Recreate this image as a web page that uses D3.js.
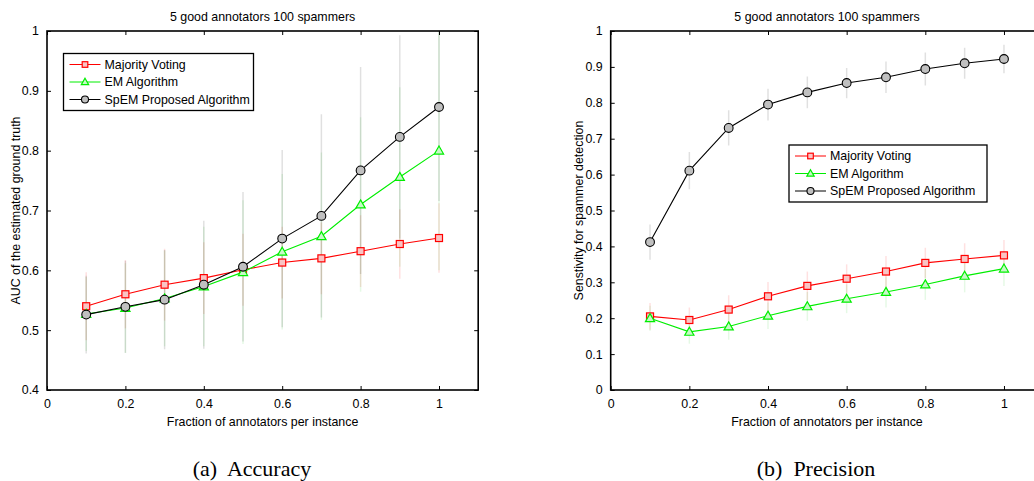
<!DOCTYPE html>
<html>
<head>
<meta charset="utf-8">
<script src="https://cdn.jsdelivr.net/npm/d3@7"></script>
<style>
  html, body { margin: 0; padding: 0; background: #fff; }
  svg { display: block; }
  text { font-family: Arial, "Liberation Sans", sans-serif; fill: #000; }
  .caption { font-family: "Times New Roman", "Liberation Serif", serif; white-space: pre; }
</style>
</head>
<body>
<svg id="fig" width="1034" height="481"></svg>
<script>
// Fraction of annotators per instance
const fractions = [0.1, 0.2, 0.3, 0.4, 0.5, 0.6, 0.7, 0.8, 0.9, 1.0];
const seriesNames = ["Majority Voting", "EM Algorithm", "SpEM Proposed Algorithm"];
const chartTitle = "5 good annotators 100 spammers";
const xLabel = "Fraction of annotators per instance";
const xTicks = [0, 0.2, 0.4, 0.6, 0.8, 1];

// (a) Accuracy: AUC of the estimated ground truth
const accMV   = [0.540, 0.560, 0.576, 0.587, 0.601, 0.613, 0.620, 0.632, 0.644, 0.654];
const accEM   = [0.527, 0.537, 0.553, 0.573, 0.597, 0.631, 0.657, 0.710, 0.756, 0.800];
const accSpEM = [0.526, 0.539, 0.551, 0.576, 0.606, 0.653, 0.691, 0.767, 0.823, 0.873];
const accMVErr   = [0.057, 0.057, 0.060, 0.060, 0.060, 0.060, 0.060, 0.060, 0.058, 0.058];
const accEMErr   = [0.062, 0.075, 0.080, 0.100, 0.120, 0.130, 0.140, 0.146, 0.150, 0.200];
const accSpEMErr = [0.065, 0.077, 0.083, 0.107, 0.125, 0.148, 0.170, 0.173, 0.170, 0.157];
const accYTicks = [0.4, 0.5, 0.6, 0.7, 0.8, 0.9, 1];

// (b) Precision: sensitivity for spammer detection
const senMV   = [0.205, 0.195, 0.224, 0.261, 0.290, 0.310, 0.330, 0.354, 0.365, 0.375];
const senEM   = [0.200, 0.162, 0.177, 0.207, 0.233, 0.254, 0.273, 0.294, 0.318, 0.338];
const senSpEM = [0.412, 0.611, 0.730, 0.795, 0.829, 0.855, 0.871, 0.894, 0.910, 0.922];
const senMVErr   = [0.037, 0.035, 0.040, 0.040, 0.040, 0.040, 0.043, 0.042, 0.044, 0.043];
const senEMErr   = [0.035, 0.033, 0.037, 0.037, 0.040, 0.040, 0.043, 0.043, 0.046, 0.048];
const senSpEMErr = [0.049, 0.052, 0.049, 0.044, 0.044, 0.042, 0.044, 0.046, 0.043, 0.040];
const senYTicks = [0, 0.1, 0.2, 0.3, 0.4, 0.5, 0.6, 0.7, 0.8, 0.9, 1];

const styles = [
  { color: "#ff0000", fill: "#f9c4c4", err: "rgba(255,0,0,0.12)", marker: "square" },
  { color: "#00ee00", fill: "#c8f8c8", err: "rgba(0,200,0,0.10)", marker: "triangle" },
  { color: "#000000", fill: "#c0c0c0", err: "rgba(0,0,0,0.12)", marker: "circle" }
];

const FS = 12.4;
const svg = d3.select("#fig");

function drawMarker(g, type, st, s = 1) {
  if (type === "square") {
    g.append("rect").attr("x", -3.5 * s).attr("y", -3.5 * s).attr("width", 7 * s).attr("height", 7 * s)
      .attr("fill", st.fill).attr("stroke", st.color).attr("stroke-width", 1.2);
  } else if (type === "triangle") {
    g.append("path").attr("d", `M0,${-4.6 * s}L${4.6 * s},${3.4 * s}L${-4.6 * s},${3.4 * s}Z`)
      .attr("fill", st.fill).attr("stroke", st.color).attr("stroke-width", 1.2);
  } else {
    g.append("circle").attr("r", 4.4 * s)
      .attr("fill", st.fill).attr("stroke", st.color).attr("stroke-width", 1.1);
  }
}

function panel(opts) {
  const { left, top, width, height, yDomain, yTicks, values, errors, yLabel, legendPos, caption, captionX } = opts;
  const x = d3.scaleLinear().domain([0, 1.1]).range([left, left + width]);
  const y = d3.scaleLinear().domain(yDomain).range([top + height, top]);
  const g = svg.append("g");

  const clipId = "clip" + Math.round(left);
  g.append("clipPath").attr("id", clipId)
    .append("rect").attr("x", left).attr("y", top).attr("width", width).attr("height", height);

  const plot = g.append("g").attr("clip-path", `url(#${clipId})`);

  // error bars (no caps), drawn beneath the lines
  values.forEach((vals, si) => {
    plot.append("g").selectAll("line").data(fractions).join("line")
      .attr("x1", d => x(d)).attr("x2", d => x(d))
      .attr("y1", (d, i) => y(vals[i] - errors[si][i]))
      .attr("y2", (d, i) => y(vals[i] + errors[si][i]))
      .attr("stroke", styles[si].err).attr("stroke-width", 1.5);
  });

  // series lines and markers
  values.forEach((vals, si) => {
    const st = styles[si];
    const line = d3.line().x((d, i) => x(fractions[i])).y(d => y(d));
    plot.append("path").datum(vals).attr("d", line)
      .attr("fill", "none").attr("stroke", st.color).attr("stroke-width", 1.1);
    vals.forEach((v, i) => {
      const m = plot.append("g").attr("transform", `translate(${x(fractions[i])},${y(v)})`);
      drawMarker(m, st.marker, st);
    });
  });

  // axes with inward ticks on all four sides
  const tl = 4;
  const bottomAxis = d3.axisBottom(x).tickValues(xTicks).tickSizeInner(-tl).tickSizeOuter(0)
    .tickPadding(9).tickFormat(d3.format("~g"));
  const topAxis = d3.axisTop(x).tickValues(xTicks).tickSizeInner(-tl).tickSizeOuter(0).tickFormat("");
  const leftAxis = d3.axisLeft(y).tickValues(yTicks).tickSizeInner(-tl).tickSizeOuter(0)
    .tickPadding(8).tickFormat(d3.format("~g"));
  const rightAxis = d3.axisRight(y).tickValues(yTicks).tickSizeInner(-tl).tickSizeOuter(0).tickFormat("");

  const axes = [
    g.append("g").attr("transform", `translate(0,${top + height})`).call(bottomAxis),
    g.append("g").attr("transform", `translate(0,${top})`).call(topAxis),
    g.append("g").attr("transform", `translate(${left},0)`).call(leftAxis),
    g.append("g").attr("transform", `translate(${left + width},0)`).call(rightAxis)
  ];
  axes.forEach(a => {
    a.select(".domain").remove();
    a.selectAll(".tick line").attr("stroke", "#000").attr("stroke-width", 1);
    a.selectAll(".tick text").attr("font-size", FS).attr("fill", "#000")
      .style("font-family", "Arial, 'Liberation Sans', sans-serif");
  });

  // axes box
  g.append("rect").attr("x", left).attr("y", top).attr("width", width).attr("height", height)
    .attr("fill", "none").attr("stroke", "#000").attr("stroke-width", 1.6);

  // title and axis labels
  g.append("text").attr("x", left + width / 2).attr("y", 21)
    .attr("text-anchor", "middle").attr("font-size", FS).text(chartTitle);
  g.append("text").attr("x", x(0.55)).attr("y", top + height + 36)
    .attr("text-anchor", "middle").attr("font-size", FS).text(xLabel);
  g.append("text")
    .attr("transform", `translate(${opts.yLabelX},${top + height / 2}) rotate(-90)`)
    .attr("text-anchor", "middle").attr("font-size", FS).text(yLabel);

  // legend
  const lg = g.append("g").attr("transform", `translate(${legendPos[0]},${legendPos[1]})`);
  lg.append("rect").attr("x", 0).attr("y", 0).attr("width", legendPos[2]).attr("height", 57)
    .attr("fill", "#fff").attr("stroke", "#000").attr("stroke-width", 1.3);
  seriesNames.forEach((name, si) => {
    const st = styles[si];
    const ry = 11 + si * 17.5;
    lg.append("line").attr("x1", 6).attr("x2", 37).attr("y1", ry).attr("y2", ry)
      .attr("stroke", st.color).attr("stroke-width", 1);
    const m = lg.append("g").attr("transform", `translate(21.5,${ry})`);
    drawMarker(m, st.marker, st, 0.8);
    lg.append("text").attr("x", 41).attr("y", ry + 4.4).attr("font-size", FS).text(name);
  });

  // sub-figure caption
  svg.append("text").attr("class", "caption").attr("x", captionX).attr("y", 476)
    .attr("text-anchor", "middle").attr("font-size", 22).text(caption);
}

panel({
  left: 47, top: 31, width: 431.2, height: 359,
  yDomain: [0.4, 1], yTicks: accYTicks,
  values: [accMV, accEM, accSpEM], errors: [accMVErr, accEMErr, accSpEMErr],
  yLabel: "AUC of the estimated ground truth", yLabelX: 20,
  legendPos: [63.5, 53.5, 190], caption: "(a)  Accuracy", captionX: 252
});

panel({
  left: 610.7, top: 31, width: 432.6, height: 359,
  yDomain: [0, 1], yTicks: senYTicks,
  values: [senMV, senEM, senSpEM], errors: [senMVErr, senEMErr, senSpEMErr],
  yLabel: "Senstivity for spammer detection", yLabelX: 583,
  legendPos: [789, 145, 198], caption: "(b)  Precision", captionX: 816
});
</script>
</body>
</html>
